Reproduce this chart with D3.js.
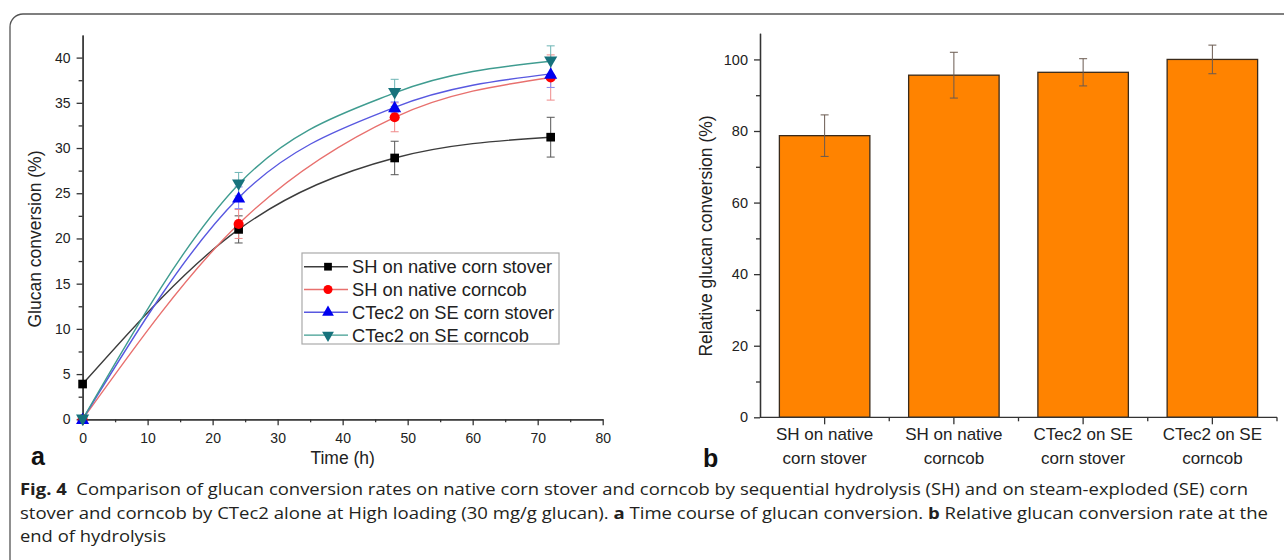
<!DOCTYPE html>
<html lang="en">
<head>
	<meta charset="UTF-8">
	<title>Fig. 4</title>
	<script src="https://cdn.jsdelivr.net/npm/d3@7"></script>
	<style>
		body { margin: 0; background: #fff; }
		text { font-family: "Liberation Sans", Arial, sans-serif; fill: #222; }
		.caption text, text.caption { font-family: "Open Sans", sans-serif; }
		.axis path, .axis line { stroke: #333; stroke-width: 1.3; }
		.axis text { font-family: "Liberation Sans", Arial, sans-serif; fill: #222; }
	</style>
</head>
<body>
<script type="text/javascript">

	// panel a: time course
	var times = [0, 24, 48, 72];
	var seriesNames = ['SH on native corn stover', 'SH on native corncob', 'CTec2 on SE corn stover', 'CTec2 on SE corncob'];
	var shStover = [3.9, 21.0, 28.9, 31.2];
	var shStoverErr = [0.3, 1.5, 1.85, 2.2];
	var shCorncob = [0, 21.6, 33.4, 37.8];
	var shCorncobErr = [0, 1.6, 1.6, 2.5];
	var seStover = [0, 24.5, 34.5, 38.2];
	var seStoverErr = [0, 1.2, 0.6, 1.5];
	var seCorncob = [0, 26.0, 36.1, 39.6];
	var seCorncobErr = [0, 1.3, 1.5, 1.7];
	var xTicksA = [0, 10, 20, 30, 40, 50, 60, 70, 80];
	var yTicksA = [0, 5, 10, 15, 20, 25, 30, 35, 40];

	// panel b: relative conversion
	var categories = [['SH on native', 'corn stover'], ['SH on native', 'corncob'], ['CTec2 on SE', 'corn stover'], ['CTec2 on SE', 'corncob']];
	var relValues = [78.7, 95.6, 96.4, 100];
	var relErr = [5.8, 6.4, 3.8, 4.0];
	var yTicksB = [0, 20, 40, 60, 80, 100];

	var captionLines = [
		[['Fig. 4', true], ['  Comparison of glucan conversion rates on native corn stover and corncob by sequential hydrolysis (SH) and on steam-exploded (SE) corn', false]],
		[['stover and corncob by CTec2 alone at High loading (30 mg/g glucan). ', false], ['a', true], [' Time course of glucan conversion. ', false], ['b', true], [' Relative glucan conversion rate at the', false]],
		[['end of hydrolysis', false]]
	];

	var W = 1284, H = 560;
	var svg = d3.select('body').append('svg')
		.attr('width', W)
		.attr('height', H);

	// frame
	svg.append('rect')
		.attr('x', 10).attr('y', 14)
		.attr('width', 1300).attr('height', 600)
		.attr('rx', 13)
		.attr('fill', 'none')
		.attr('stroke', '#555')
		.attr('stroke-width', 1.3);

	// ---------- panel a ----------
	var xA = d3.scaleLinear().domain([0, 80]).range([82.6, 602.7]);
	var yA = d3.scaleLinear().domain([0, 42.5]).range([419.3, 35]);

	var gA = svg.append('g');

	gA.append('g').attr('class', 'axis')
		.attr('transform', 'translate(0,' + yA(0) + ')')
		.call(d3.axisBottom(xA).tickValues(d3.range(5, 80, 10)).tickSize(3).tickFormat('').tickSizeOuter(0));
	gA.append('g').attr('class', 'axis')
		.attr('transform', 'translate(0,' + yA(0) + ')')
		.call(d3.axisBottom(xA).tickValues(xTicksA).tickSize(6).tickPadding(8).tickSizeOuter(0))
		.selectAll('text').style('font-size', '14px');

	gA.append('g').attr('class', 'axis')
		.attr('transform', 'translate(' + xA(0) + ',0)')
		.call(d3.axisLeft(yA).tickValues(d3.range(2.5, 42.5, 5)).tickSize(4).tickFormat('').tickSizeOuter(0));
	gA.append('g').attr('class', 'axis')
		.attr('transform', 'translate(' + xA(0) + ',0)')
		.call(d3.axisLeft(yA).tickValues(yTicksA).tickSize(6).tickPadding(6).tickSizeOuter(0))
		.selectAll('text').style('font-size', '14px');

	gA.append('text')
		.attr('transform', 'translate(41,' + 239 + ') rotate(-90)')
		.attr('text-anchor', 'middle')
		.style('font-size', '17.5px')
		.text('Glucan conversion (%)');

	gA.append('text')
		.attr('x', (xA(0) + xA(80)) / 2).attr('y', 464)
		.attr('text-anchor', 'middle')
		.style('font-size', '17.5px')
		.text('Time (h)');

	svg.append('text')
		.attr('x', 31).attr('y', 465)
		.style('font-size', '25px').style('font-weight', 'bold').style('fill', '#111')
		.text('a');

	var series = [
		{name: seriesNames[0], v: shStover, e: shStoverErr, line: '#3c3c3c', mark: '#000', err: '#555', shape: d3.symbolSquare, size: 75},
		{name: seriesNames[1], v: shCorncob, e: shCorncobErr, line: '#e8706e', mark: '#f00', err: '#ef8a8a', shape: d3.symbolCircle, size: 80},
		{name: seriesNames[2], v: seStover, e: seStoverErr, line: '#5858e0', mark: '#0000f0', err: '#8a8af0', shape: d3.symbolTriangle, size: 75},
		{name: seriesNames[3], v: seCorncob, e: seCorncobErr, line: '#3f9c90', mark: '#17727c', err: '#6db5b5', shape: d3.symbolTriangle, size: 75, flip: true}
	];

	var line = d3.line()
		.x(function (d) { return xA(d[0]); })
		.y(function (d) { return yA(d[1]); })
		.curve(d3.curveMonotoneX);

	series.forEach(function (s) {
		var pts = times.map(function (t, i) { return [t, s.v[i], s.e[i]]; });

		gA.append('path')
			.datum(pts)
			.attr('d', line)
			.attr('fill', 'none')
			.attr('stroke', s.line)
			.attr('stroke-width', 1.4);

		var eb = gA.append('g').selectAll('g')
			.data(pts.filter(function (d) { return d[2] > 0.4; }))
			.enter().append('g')
			.attr('stroke', s.err)
			.attr('stroke-width', 1);
		eb.append('line')
			.attr('x1', function (d) { return xA(d[0]); })
			.attr('x2', function (d) { return xA(d[0]); })
			.attr('y1', function (d) { return yA(d[1] - d[2]); })
			.attr('y2', function (d) { return yA(d[1] + d[2]); });
		[-1, 1].forEach(function (sg) {
			eb.append('line')
				.attr('x1', function (d) { return xA(d[0]) - 4; })
				.attr('x2', function (d) { return xA(d[0]) + 4; })
				.attr('y1', function (d) { return yA(d[1] + sg * d[2]); })
				.attr('y2', function (d) { return yA(d[1] + sg * d[2]); });
		});
	});

	series.forEach(function (s) {
		var pts = times.map(function (t, i) { return [t, s.v[i]]; });
		gA.append('g').selectAll('path')
			.data(pts)
			.enter().append('path')
			.attr('d', d3.symbol().type(s.shape).size(s.size))
			.attr('transform', function (d) {
				return 'translate(' + xA(d[0]) + ',' + (yA(d[1]) + (s.shape === d3.symbolTriangle ? (s.flip ? -1 : 1) : 0)) + ')' + (s.flip ? ' rotate(180)' : '');
			})
			.attr('fill', s.mark);
	});

	// legend
	var leg = gA.append('g').attr('transform', 'translate(302,253)');
	leg.append('rect')
		.attr('width', 257).attr('height', 91)
		.attr('fill', '#fff')
		.attr('stroke', '#aaa')
		.attr('stroke-width', 1.2);
	var items = leg.selectAll('g.item')
		.data(series)
		.enter().append('g')
		.attr('class', 'item')
		.attr('transform', function (d, i) { return 'translate(0,' + (13.7 + i * 22.8) + ')'; });
	items.append('line')
		.attr('x1', 2).attr('x2', 46)
		.attr('stroke', function (d) { return d.line; })
		.attr('stroke-width', 1.4);
	items.append('path')
		.attr('d', function (d) { return d3.symbol().type(d.shape).size(d.size * 0.8)(); })
		.attr('transform', function (d) { return 'translate(26,0)' + (d.flip ? ' rotate(180)' : ''); })
		.attr('fill', function (d) { return d.mark; });
	items.append('text')
		.attr('x', 50).attr('y', 6.5)
		.style('font-size', '18.3px')
		.text(function (d) { return d.name; });

	// ---------- panel b ----------
	var xB = d3.scaleBand().domain(d3.range(categories.length)).range([760, 1277]).paddingInner(0.3).paddingOuter(0.15);
	var yB = d3.scaleLinear().domain([0, 107.3]).range([417.3, 33.3]);

	var gB = svg.append('g');

	gB.selectAll('rect.bar')
		.data(relValues)
		.enter().append('rect')
		.attr('class', 'bar')
		.attr('x', function (d, i) { return xB(i); })
		.attr('y', function (d) { return yB(d); })
		.attr('width', xB.bandwidth())
		.attr('height', function (d) { return yB(0) - yB(d); })
		.attr('fill', '#ff8300')
		.attr('stroke', '#3a2a1a')
		.attr('stroke-width', 1.3);

	var ebB = gB.selectAll('g.err')
		.data(relValues)
		.enter().append('g')
		.attr('class', 'err')
		.attr('stroke', '#6a5a50')
		.attr('stroke-width', 1);
	ebB.append('line')
		.attr('x1', function (d, i) { return xB(i) + xB.bandwidth() / 2; })
		.attr('x2', function (d, i) { return xB(i) + xB.bandwidth() / 2; })
		.attr('y1', function (d, i) { return yB(d - relErr[i]); })
		.attr('y2', function (d, i) { return yB(d + relErr[i]); });
	[-1, 1].forEach(function (sg) {
		ebB.append('line')
			.attr('x1', function (d, i) { return xB(i) + xB.bandwidth() / 2 - 4; })
			.attr('x2', function (d, i) { return xB(i) + xB.bandwidth() / 2 + 4; })
			.attr('y1', function (d, i) { return yB(d + sg * relErr[i]); })
			.attr('y2', function (d, i) { return yB(d + sg * relErr[i]); });
	});

	// x axis of panel b: ticks at band centres and minor ticks between
	var xBAxis = gB.append('g').attr('class', 'axis')
		.attr('transform', 'translate(0,' + yB(0) + ')');
	xBAxis.append('line')
		.attr('x1', 760).attr('x2', 1277);
	var step = xB.step();
	xBAxis.selectAll('line.minor')
		.data(d3.range(1, categories.length + 1))
		.enter().append('line')
		.attr('class', 'minor')
		.attr('x1', function (i) { return xB(0) - xB.paddingOuter() * step + i * step; })
		.attr('x2', function (i) { return xB(0) - xB.paddingOuter() * step + i * step; })
		.attr('y2', 4);
	xBAxis.selectAll('line.major')
		.data(d3.range(categories.length))
		.enter().append('line')
		.attr('class', 'major')
		.attr('x1', function (i) { return xB(i) + xB.bandwidth() / 2; })
		.attr('x2', function (i) { return xB(i) + xB.bandwidth() / 2; })
		.attr('y2', 7);
	var lbl = xBAxis.selectAll('text.cat')
		.data(categories)
		.enter().append('text')
		.attr('class', 'cat')
		.attr('text-anchor', 'middle')
		.style('font-size', '17px')
		.attr('transform', function (d, i) { return 'translate(' + (xB(i) + xB.bandwidth() / 2) + ',0)'; });
	lbl.append('tspan').attr('x', 0).attr('y', 23).text(function (d) { return d[0]; });
	lbl.append('tspan').attr('x', 0).attr('y', 47).text(function (d) { return d[1]; });

	gB.append('g').attr('class', 'axis')
		.attr('transform', 'translate(760,0)')
		.call(d3.axisLeft(yB).tickValues(d3.range(10, 107, 20)).tickSize(4).tickFormat('').tickSizeOuter(0));
	gB.append('g').attr('class', 'axis')
		.attr('transform', 'translate(760,0)')
		.call(d3.axisLeft(yB).tickValues(yTicksB).tickSize(6).tickPadding(6).tickSizeOuter(0))
		.selectAll('text').style('font-size', '14.5px');

	gB.append('text')
		.attr('transform', 'translate(712,236) rotate(-90)')
		.attr('text-anchor', 'middle')
		.style('font-size', '17.5px')
		.text('Relative glucan conversion (%)');

	svg.append('text')
		.attr('x', 703).attr('y', 467)
		.style('font-size', '25px').style('font-weight', 'bold').style('fill', '#111')
		.text('b');

	// ---------- caption ----------
	var capWidths = [1228, 1248, 146];
	var cap = svg.append('g').attr('class', 'caption');
	captionLines.forEach(function (ln, i) {
		var t = cap.append('text')
			.attr('x', 20)
			.attr('y', 495 + i * 23.5)
			.style('font-size', '16.5px')
			.style('fill', '#231f20');
		ln.forEach(function (seg) {
			t.append('tspan')
				.style('font-weight', seg[1] ? 'bold' : 'normal')
				.attr('xml:space', 'preserve')
				.text(seg[0]);
		});
		t.attr('textLength', capWidths[i]).attr('lengthAdjust', 'spacingAndGlyphs');
	});

</script>
</body>
</html>
